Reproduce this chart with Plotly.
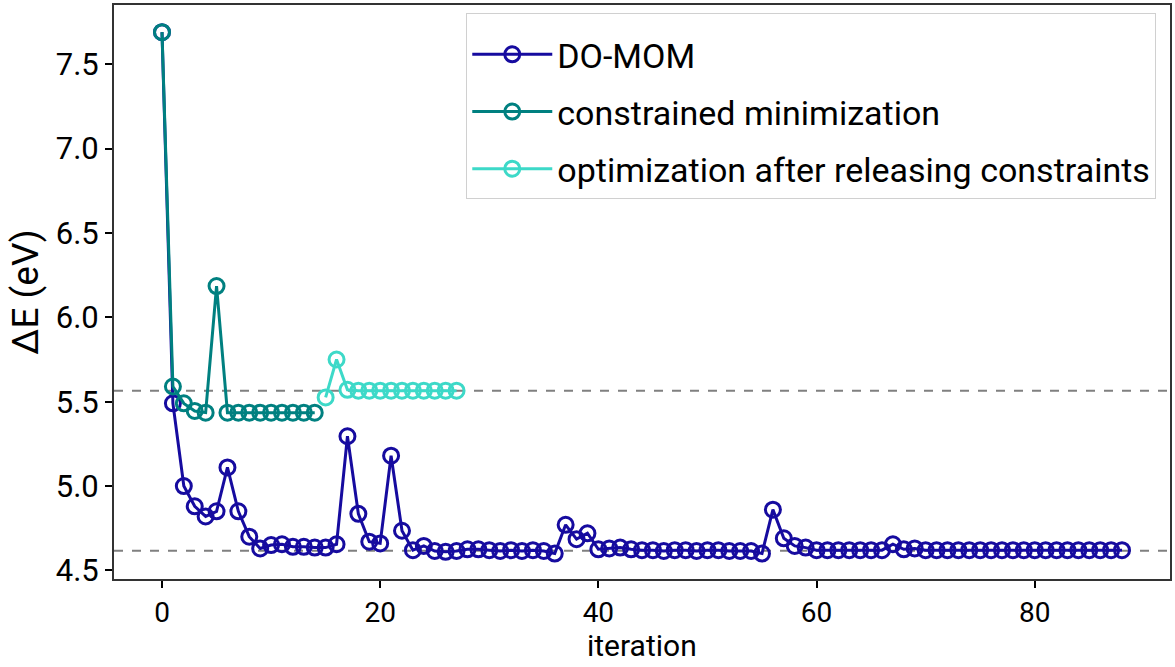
import plotly.graph_objects as go

# DO-MOM energies, iterations 0..88
do_mom = [7.69, 5.49, 5.00, 4.88, 4.82, 4.85, 5.11, 4.85, 4.70, 4.63,
          4.65, 4.655, 4.64, 4.64, 4.635, 4.635, 4.655, 5.295, 4.835, 4.67,
          4.66, 5.18, 4.735, 4.62, 4.645, 4.615, 4.61, 4.615, 4.625, 4.625,
          4.62, 4.615, 4.62, 4.615, 4.62, 4.615, 4.60, 4.77, 4.685, 4.72,
          4.625, 4.63, 4.635, 4.625, 4.62, 4.62, 4.615, 4.62, 4.62, 4.615,
          4.62, 4.62, 4.615, 4.615, 4.615, 4.60, 4.86, 4.69, 4.645, 4.635,
          4.62, 4.62, 4.62, 4.62, 4.62, 4.62, 4.62, 4.655, 4.625, 4.63,
          4.62, 4.62, 4.62, 4.62, 4.62, 4.62, 4.62, 4.62, 4.62, 4.62,
          4.62, 4.62, 4.62, 4.62, 4.62, 4.62, 4.62, 4.62, 4.62]
do_mom_start = 0

# constrained minimization, iterations 0..14
constrained = [7.69, 5.59, 5.49, 5.445, 5.435, 6.185, 5.435, 5.435, 5.435,
               5.435, 5.435, 5.435, 5.435, 5.435, 5.435]
constrained_start = 0

# optimization after releasing constraints, iterations 15..27
released = [5.525, 5.75, 5.57, 5.565, 5.565, 5.565, 5.565, 5.565, 5.565,
            5.565, 5.565, 5.565, 5.565]
released_start = 15

# reference levels (dashed lines)
ref_levels = [5.565, 4.617]

x_ticks = [0, 20, 40, 60, 80]
y_ticks = [4.5, 5.0, 5.5, 6.0, 6.5, 7.0, 7.5]

FONT = "Roboto"

series = [
    ("DO-MOM", do_mom, do_mom_start, "#160b9f"),
    ("constrained minimization", constrained, constrained_start, "#008080"),
    ("optimization after releasing constraints", released, released_start, "#3dd9c8"),
]

fig = go.Figure()
for i, (name, vals, start, col) in enumerate(series):
    fig.add_trace(go.Scatter(
        x=[start + k for k in range(len(vals))], y=vals, name=name,
        mode="lines+markers",
        line=dict(color=col, width=3),
        marker=dict(symbol="circle-open", size=15, color=col, line=dict(width=3, color=col)),
        legendgroup=f"g{i}",
    ))

for lv in ref_levels:
    fig.add_shape(type="line", xref="paper", yref="y", x0=0, x1=1, y0=lv, y1=lv,
                  line=dict(color="#808080", width=2, dash="dash"), layer="below")

fig.add_annotation(text="iteration", xref="paper", yref="paper", x=0.5, y=0,
                   xanchor="center", yanchor="bottom", yshift=-86, showarrow=False,
                   font=dict(family=FONT, size=30, color="black"))

fig.update_layout(
    width=1175, height=667,
    margin=dict(l=114, r=3, t=5, b=88),
    paper_bgcolor="white", plot_bgcolor="white",
    font=dict(family=FONT, size=31, color="black"),
    showlegend=True,
    legend=dict(x=0.987, xanchor="right", y=0.986, yanchor="top",
                bordercolor="#d0d0d0", borderwidth=1, bgcolor="rgba(255,255,255,0.8)",
                font=dict(family=FONT, size=34), traceorder="grouped",
                tracegroupgap=10, itemwidth=80,
                title=dict(text=" ", font=dict(size=9))),
)
fig.update_xaxes(range=[-4.4, 92.4], tickvals=x_ticks, ticks="outside", ticklen=7,
                 tickwidth=1.5, tickcolor="black", showline=True, linecolor="#333",
                 linewidth=2, mirror=True, showgrid=False, zeroline=False,
                 automargin=False, tickfont=dict(size=28))
fig.update_yaxes(range=[4.449, 7.851], tickvals=y_ticks,
                 ticktext=[f"{v:.1f}" for v in y_ticks], ticks="outside", ticklen=7,
                 tickwidth=1.5, tickcolor="black", showline=True, linecolor="#333",
                 linewidth=2, mirror=True, showgrid=False, zeroline=False,
                 title=dict(text="ΔE (eV)", font=dict(size=37), standoff=6),
                 tickfont=dict(size=31))

fig.write_html("out.html", config={"displayModeBar": False},
               post_script="document.body.style.margin='0';document.body.style.overflow='hidden';")
